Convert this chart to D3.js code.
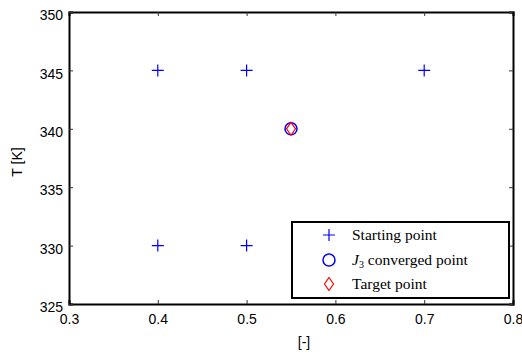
<!DOCTYPE html>
<html>
<head>
<meta charset="utf-8">
<script src="https://cdn.jsdelivr.net/npm/d3@7"></script>
<style>
body { margin: 0; background: #fff; }
text { font-family: "Liberation Sans", Arial, sans-serif; }
.legend text { font-family: "Liberation Serif", "Times New Roman", serif; }
</style>
</head>
<body>
<script>
// data
var startX = [0.4, 0.5, 0.7, 0.4, 0.5];
var startT = [345, 345, 345, 330, 330];
var convX = [0.55];
var convT = [340];
var targetX = [0.55];
var targetT = [340];
var xTicks = [0.3, 0.4, 0.5, 0.6, 0.7, 0.8];
var yTicks = [325, 330, 335, 340, 345, 350];
var legendLabels = ["Starting point", "converged point", "Target point"];

var W = 522, H = 356;
var margin = {top: 12, right: 9, bottom: 52, left: 69},
    w = W - margin.left - margin.right,
    h = H - margin.top - margin.bottom;

var svg = d3.select("body").append("svg")
    .attr("width", W).attr("height", H);

var g = svg.append("g")
    .attr("transform", "translate(" + margin.left + "," + margin.top + ")");

var x = d3.scaleLinear().domain([0.3, 0.8]).range([0, w]);
var y = d3.scaleLinear().domain([325, 350]).range([h, 0]);

// axes, ticks pointing inward
var fmtX = d3.format(".1f");
g.append("g").attr("transform", "translate(0," + h + ")")
    .call(d3.axisBottom(x).tickValues(xTicks).tickSize(-4).tickPadding(10).tickFormat(fmtX));
g.append("g")
    .call(d3.axisTop(x).tickValues(xTicks).tickSize(-4).tickFormat(""));
g.append("g").attr("class", "yaxis")
    .call(d3.axisLeft(y).tickValues(yTicks).tickSize(-4).tickPadding(6).tickFormat(d3.format("d")));
g.append("g").attr("transform", "translate(" + w + ",0)")
    .call(d3.axisRight(y).tickValues(yTicks).tickSize(-4).tickFormat(""));

g.selectAll(".domain").attr("stroke", "#000").attr("stroke-width", 2);
g.selectAll(".tick line").attr("stroke", "#333");
g.selectAll(".tick text").attr("font-size", 14).attr("fill", "#000")
    .attr("font-family", "Liberation Sans, Arial, sans-serif");
g.selectAll(".yaxis .tick text").attr("dy", "0.55em");

// axis labels
svg.append("text")
    .attr("transform", "translate(22,162) rotate(-90)")
    .attr("text-anchor", "middle")
    .attr("font-size", 14)
    .text("T [K]");
svg.append("text")
    .attr("x", 304).attr("y", 347)
    .attr("text-anchor", "middle")
    .attr("font-size", 14)
    .text("[-]");

// markers
function plus(sel, s) {
    sel.append("path")
        .attr("d", "M" + (-s) + ",0H" + s + "M0," + (-s) + "V" + s)
        .attr("stroke", "#0000ff").attr("stroke-width", 1.2).attr("fill", "none");
}
function circle(sel) {
    sel.append("circle").attr("r", 6)
        .attr("stroke", "#0000ff").attr("stroke-width", 1.5).attr("fill", "none");
}
function diamond(sel) {
    sel.append("path").attr("d", "M0,-6.5L4.5,0L0,6.5L-4.5,0Z")
        .attr("stroke", "#ff0000").attr("stroke-width", 1.2).attr("fill", "none");
}

g.selectAll(".start").data(startX).enter().append("g")
    .attr("class", "start")
    .attr("transform", function(d, i) { return "translate(" + x(d) + "," + y(startT[i]) + ")"; })
    .each(function() { plus(d3.select(this), 6); });

g.selectAll(".conv").data(convX).enter().append("g")
    .attr("class", "conv")
    .attr("transform", function(d, i) { return "translate(" + x(d) + "," + y(convT[i]) + ")"; })
    .each(function() { circle(d3.select(this)); });

g.selectAll(".target").data(targetX).enter().append("g")
    .attr("class", "target")
    .attr("transform", function(d, i) { return "translate(" + x(d) + "," + y(targetT[i]) + ")"; })
    .each(function() { diamond(d3.select(this)); });

// legend
var lg = svg.append("g").attr("class", "legend");
lg.append("rect")
    .attr("x", 292).attr("y", 222).attr("width", 217).attr("height", 76)
    .attr("fill", "#fff").attr("stroke", "#000").attr("stroke-width", 2);

var rowY = [235, 260, 284];
var markers = [function(s) { plus(s, 6); }, circle, diamond];
legendLabels.forEach(function(lab, i) {
    var row = lg.append("g").attr("transform", "translate(329," + rowY[i] + ")");
    markers[i](row);
    var t = lg.append("text")
        .attr("x", 352).attr("y", rowY[i] + 5)
        .attr("font-size", 15.5);
    if (i === 1) {
        t.append("tspan").attr("font-style", "italic").text("J");
        t.append("tspan").attr("font-size", 10).attr("dy", 3).text("3");
        t.append("tspan").attr("dy", -3).text(" " + lab);
    } else {
        t.text(lab);
    }
});
</script>
</body>
</html>
